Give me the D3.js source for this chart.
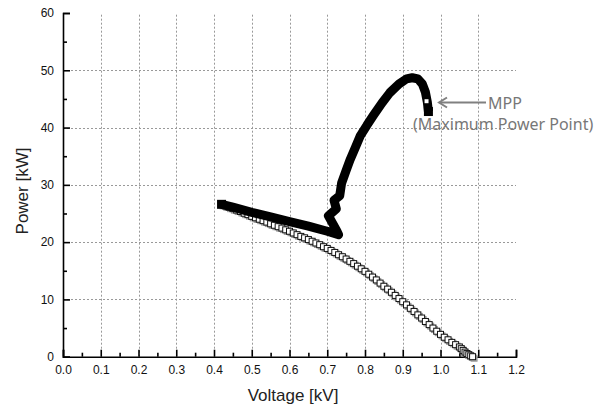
<!DOCTYPE html>
<html>
<head>
<meta charset="utf-8">
<script src="https://cdn.jsdelivr.net/npm/d3@7"></script>
<style>
  body { margin: 0; background: #fff; }
  svg { display: block; }
</style>
</head>
<body>
<svg id="chart" width="611" height="410"></svg>
<script>
// open squares: voltage [kV] / power [kW]
const openV = [0.42,0.43,0.44,0.45,0.46,0.47,0.48,0.49,0.50,0.51,0.52,0.53,0.54,0.55,0.56,0.57,0.58,0.59,
  0.60,0.61,0.62,0.63,0.64,0.65,0.66,0.67,0.68,0.69,0.70,0.71,0.72,0.73,0.74,0.75,0.76,0.77,0.78,0.79,
  0.80,0.81,0.82,0.83,0.84,0.85,0.86,0.87,0.88,0.89,0.90,0.91,0.92,0.93,0.94,0.95,0.96,0.97,0.98,0.99,
  1.00,1.01,1.02,1.03,1.04,1.05,1.055,1.06,1.065,1.07,1.075,1.08,1.085];
const openP = [26.6,26.35,26.1,25.85,25.6,25.35,25.05,24.8,24.5,24.25,24.0,23.75,23.5,23.2,22.95,22.7,22.45,22.15,
  21.9,21.6,21.3,21.0,20.75,20.45,20.15,19.85,19.55,19.2,18.9,18.55,18.2,17.8,17.45,17.05,16.65,16.25,15.8,15.35,
  14.9,14.4,13.9,13.4,12.85,12.3,11.8,11.25,10.7,10.15,9.6,9.05,8.45,7.9,7.3,6.75,6.15,5.6,5.0,4.45,
  3.9,3.4,2.95,2.5,2.1,1.7,1.4,1.1,0.8,0.55,0.35,0.15,0.0];

// filled squares (tracking path)
const fillV = [0.42,0.45,0.50,0.55,0.60,0.65,0.70,0.73,0.725,0.703,0.724,0.718,0.733,0.738,0.75,0.76,
  0.775,0.787,0.805,0.822,0.845,0.866,0.89,0.91,0.925,0.94,0.952,0.96,0.965,0.968];
const fillP = [26.6,26.1,25.2,24.4,23.6,22.8,21.9,21.3,22.0,24.6,25.8,27.3,28.1,30.3,32.5,34.3,
  36.6,38.5,40.4,42.1,44.3,46.1,47.6,48.5,48.7,48.5,47.6,46.2,44.5,42.8];

const mppV = 0.963, mppP = 44.6;

const xTicks = [0,0.1,0.2,0.3,0.4,0.5,0.6,0.7,0.8,0.9,1.0,1.1,1.2];
const yTicks = [0,10,20,30,40,50,60];

const svg = d3.select("#chart");
const mLeft = 63, mRight = 516, mTop = 13, mBottom = 356.7;

const x = d3.scaleLinear().domain([0, 1.2]).range([mLeft, mRight]);
const y = d3.scaleLinear().domain([0, 60]).range([mBottom, mTop]);

// grid
const grid = svg.append("g").attr("stroke", "#999").attr("stroke-width", 1).attr("stroke-dasharray", "2,2");
grid.selectAll(".gx").data(xTicks.filter(d => d > 0 && d < 1.2)).enter().append("line")
  .attr("x1", d => Math.round(x(d)) + 0.5).attr("x2", d => Math.round(x(d)) + 0.5)
  .attr("y1", mBottom).attr("y2", mTop);
grid.selectAll(".gy").data(yTicks.filter(d => d > 0 && d < 60)).enter().append("line")
  .attr("y1", d => Math.round(y(d)) + 0.5).attr("y2", d => Math.round(y(d)) + 0.5)
  .attr("x1", mLeft).attr("x2", mRight);

// axes
const xAxis = d3.axisBottom(x).tickValues(xTicks).tickFormat(d3.format(".1f")).tickSize(-7).tickPadding(9);
const xMinor = d3.axisBottom(x).tickValues(xTicks.slice(0, -1).map(d => d + 0.05)).tickFormat("").tickSize(-4);
const yAxis = d3.axisLeft(y).tickValues(yTicks).tickFormat(d3.format("d")).tickSize(-7).tickPadding(9);
const yMinor = d3.axisLeft(y).tickValues(yTicks.slice(0, -1).map(d => d + 5)).tickFormat("").tickSize(-4);

function style(g) {
  g.select(".domain").attr("stroke", "#000").attr("stroke-width", 1.6);
  g.selectAll(".tick line").attr("stroke", "#000").attr("stroke-width", 1.6);
  g.selectAll("text").attr("font-family", "Liberation Sans, Arial, sans-serif").attr("font-size", 12).attr("fill", "#111");
}
svg.append("g").attr("transform", `translate(0,${mBottom})`).call(xMinor).call(style).select(".domain").remove();
svg.append("g").attr("transform", `translate(${mLeft},0)`).call(yMinor).call(style).select(".domain").remove();
svg.append("g").attr("transform", `translate(0,${mBottom})`).call(xAxis.tickSizeOuter(-7)).call(style);
svg.append("g").attr("transform", `translate(${mLeft},0)`).call(yAxis.tickSizeOuter(-7)).call(style);

// axis titles
svg.append("text").attr("x", 293).attr("y", 401).attr("text-anchor", "middle")
  .attr("font-family", "Liberation Sans, Arial, sans-serif").attr("font-size", 17).attr("fill", "#222")
  .text("Voltage [kV]");
svg.append("text").attr("transform", "translate(28,191) rotate(-90)").attr("text-anchor", "middle")
  .attr("font-family", "Liberation Sans, Arial, sans-serif").attr("font-size", 17).attr("fill", "#222")
  .text("Power [kW]");

// open squares series
const openData = openV.map((v, i) => [v, openP[i]]);
const s = 6;
svg.append("g").selectAll("rect").data(openData).enter().append("rect")
  .attr("x", d => x(d[0]) - s / 2 + 1.5).attr("y", d => y(d[1]) - s / 2 + 1.5)
  .attr("width", s).attr("height", s).attr("fill", "#aaa").attr("stroke", "#999");
svg.append("g").selectAll("rect").data(openData).enter().append("rect")
  .attr("x", d => x(d[0]) - s / 2).attr("y", d => y(d[1]) - s / 2)
  .attr("width", s).attr("height", s).attr("fill", "#fff").attr("stroke", "#111").attr("stroke-width", 1);

// filled series
const fillData = fillV.map((v, i) => [v, fillP[i]]);
svg.append("path").datum(fillData)
  .attr("d", d3.line().x(d => x(d[0])).y(d => y(d[1])))
  .attr("fill", "none").attr("stroke", "#000").attr("stroke-width", 9)
  .attr("stroke-linejoin", "round");
svg.append("g").selectAll("rect").data([fillData[0], fillData[fillData.length - 1]]).enter().append("rect")
  .attr("x", d => x(d[0]) - 4.5).attr("y", d => y(d[1]) - 4.5)
  .attr("width", 9).attr("height", 9).attr("fill", "#000");

// MPP marker
svg.append("rect").attr("x", x(mppV) - 2).attr("y", y(mppP) - 2).attr("width", 4).attr("height", 4).attr("fill", "#fff");

// annotation
const ay = 102.5;
svg.append("line").attr("x1", 486).attr("x2", 439).attr("y1", ay).attr("y2", ay)
  .attr("stroke", "#808080").attr("stroke-width", 2);
svg.append("path").attr("d", `M${447},${ay - 5} L${439},${ay} L${447},${ay + 5}`)
  .attr("fill", "none").attr("stroke", "#808080").attr("stroke-width", 2);
svg.append("text").attr("x", 488).attr("y", 108.5)
  .attr("font-family", "Noto Sans, sans-serif").attr("font-size", 16).attr("fill", "#777")
  .text("MPP");
svg.append("text").attr("x", 413).attr("y", 130)
  .attr("font-family", "Noto Sans, sans-serif").attr("font-size", 16).attr("fill", "#777")
  .text("(Maximum Power Point)");
</script>
</body>
</html>
